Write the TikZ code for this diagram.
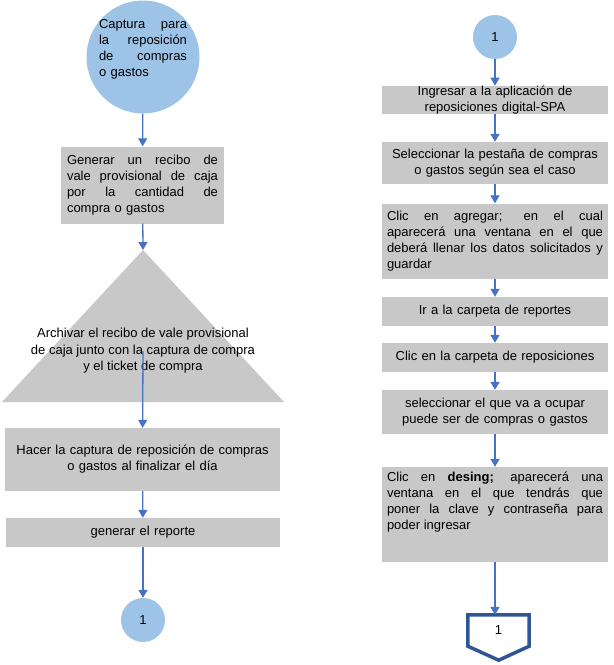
\documentclass[tikz,border=0pt]{standalone}
\usepackage{fontspec}
\setmainfont{Liberation Sans}
\usetikzlibrary{arrows.meta}

\definecolor{grisCaja}{RGB}{200,200,200}
\definecolor{azulCirculo}{RGB}{157,195,230}
\definecolor{azulFlecha}{RGB}{68,114,196}
\definecolor{azulBorde}{RGB}{47,85,151}

% linea justificada (TikZ fija \spaceskip sin estiramiento)
\newcommand{\just}[2]{\makebox[#1][s]{\spaceskip=0pt\relax #2}}

\tikzset{
  caja/.style={fill=grisCaja, inner xsep=5pt, inner ysep=0pt, align=center},
  circulo/.style={circle, fill=azulCirculo, inner sep=0pt},
  flecha/.style={draw=azulFlecha, line width=1.3pt, -{Triangle[width=9pt,length=8pt]}},
}

\begin{document}
\begin{tikzpicture}[x=1pt, y=-1pt, font=\fontsize{13}{16}\selectfont]
    \useasboundingbox (0,0) rectangle (614,665);

    % columna izquierda
    \node[circulo, minimum size=113pt] (inicio) at (143,57) {};
    \node[text width=88pt, align=left, inner sep=0pt] (inicioTxt) at (143,49)
         {\just{88pt}{Captura para}\\ \just{88pt}{la reposición}\\ \just{88pt}{de compras}\\ o gastos};
    \node[caja, inner xsep=6pt, text width=151pt, align=left, minimum height=77pt] (gen) at (142.5,185)
         {\just{151pt}{Generar un recibo de}\\ \just{151pt}{vale provisional de caja}\\ \just{151pt}{por la cantidad de}\\ compra o gastos};
    \coordinate (triTop) at (143,250);
    \fill[grisCaja] (triTop) -- (284,402) -- (2,402) -- cycle;
    \node[align=center] (archivar) at (143,351)
         {Archivar el recibo de vale provisional\\[0.5pt]de caja junto con la captura de compra\\[0.5pt]y el ticket de compra};
    \node[caja, text width=265pt, minimum height=63pt] (captura) at (142.5,459.5)
         {Hacer la captura de reposición de compras\\o gastos al finalizar el día};
    \node[caja, text width=264pt, minimum height=29pt] (reporte) at (143,532.5) {generar el reporte};
    \node[circulo, minimum size=44pt] (conA) at (143,620) {1};

    \draw[flecha] (gen) -- (triTop);
    \draw[flecha] (archivar.center) -- (captura);
    \foreach \a/\b in {inicio/gen, captura/reporte, reporte/conA}
             {
               \draw[flecha] (\a) -- (\b);
             }

    % columna derecha
    \node[circulo, minimum size=44pt] (conB) at (495,37) {1};
    \node[caja, text width=216pt, minimum height=28pt] (r1) at (495,100)
         {Ingresar a la aplicación de\\reposiciones digital-SPA};
    \node[caja, text width=216pt, minimum height=42pt] (r2) at (495,163)
         {Seleccionar la pestaña de compras\\o gastos según sea el caso};
    \node[caja, text width=216pt, align=left, minimum height=75pt] (r3) at (495,241)
         {\just{216pt}{Clic en agregar; en el cual}\\ \just{216pt}{aparecerá una ventana en el que}\\ \just{216pt}{deberá llenar los datos solicitados y}\\ guardar};
    \node[caja, text width=216pt, minimum height=29pt] (r4) at (495,311.5) {Ir a la carpeta de reportes};
    \node[caja, text width=216pt, minimum height=29pt] (r5) at (495,357.5) {Clic en la carpeta de reposiciones};
    \node[caja, text width=216pt, minimum height=44pt] (r6) at (495,412)
         {seleccionar el que va a ocupar\\puede ser de compras o gastos};
    \node[caja, inner ysep=4.5pt] (r7) at (495,514.5)
         {\parbox[c][86pt][t]{216pt}{\just{216pt}{Clic en \textbf{desing;} aparecerá una}\\ \just{216pt}{ventana en el que tendrás que}\\ \just{216pt}{poner la clave y contraseña para}\\ poder ingresar}};
    \node[minimum width=61pt, minimum height=31pt, inner sep=0pt] (fin) at (498.5,630.5) {\raisebox{-6pt}{1}};
    \draw[draw=azulBorde, line width=3.5pt] (fin.north west) -- (fin.north east) -- (fin.south east)
         -- ++(-30.5,14) -- (fin.south west) -- cycle;

    \foreach \a/\b in {conB/r1, r1/r2, r2/r3, r3/r4, r4/r5, r5/r6, r6/r7}
             {
               \draw[flecha] (\a) -- (\b);
             }
    \draw[flecha] (r7) -- (r7.south |- fin.north);

  \end{tikzpicture}
\end{document}
